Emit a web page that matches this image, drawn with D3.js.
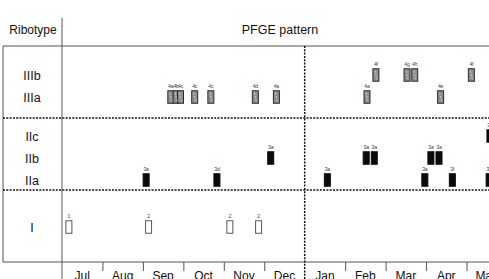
<!DOCTYPE html>
<html><head><meta charset="utf-8">
<script src="https://cdn.jsdelivr.net/npm/d3@7/dist/d3.min.js"></script>
<style>html,body{margin:0;padding:0;background:#fff;overflow:hidden}</style>
</head><body><svg id="c" width="489" height="279"></svg>
<script>
// ---- data ----
const months = ["Jul","Aug","Sep","Oct","Nov","Dec","Jan","Feb","Mar","Apr","May"];
const groupNames = ["III","II","I"];
const groupRows = [["IIIb","IIIa"],["IIc","IIb","IIa"],["I"]];
// isolates: ribotype row, time in months since 1 Jul, PFGE pattern
const isoRow = ["IIIa","IIIa","IIIa","IIIa","IIIa","IIIa","IIIa","IIIa","IIIa",
                "IIIb","IIIb","IIIb","IIIb",
                "IIc",
                "IIb","IIb","IIb","IIb","IIb",
                "IIa","IIa","IIa","IIa","IIa","IIa",
                "I","I","I","I"];
const isoTime = [2.69,2.82,2.93,3.28,3.68,4.78,5.30,7.54,9.36,
                 7.76,8.53,8.72,10.12,
                 10.58,
                 5.16,7.52,7.72,9.12,9.32,
                 2.08,3.83,6.56,8.97,9.65,10.56,
                 0.17,2.14,4.15,4.86];
const isoPattern = ["4a","4b","4c","4c","4c","4d","4a","4a","4e",
                    "4f","4g","4h","4f",
                    "3a",
                    "3a","3a","3a","3a","3a",
                    "3a","3d","3a","3a","3f","3a",
                    "1","2","2","2"];

// ---- layout ----
const svg = d3.select("#c");
const font = "Liberation Sans, Arial, sans-serif";
const L = 3, SPLIT = 62, R = 489, TOP = 46, BOT = 262;
const monthW = 40.45;
const x = d3.scaleLinear().domain([0, months.length]).range([SPLIT, SPLIT + months.length*monthW]);
const gBand = d3.scaleBand().domain(groupNames).range([TOP, BOT]);
const rowY = {};
groupRows.forEach((rows, i) => {
  const c = gBand(groupNames[i]) + gBand.bandwidth()/2 + (rows.length > 1 ? 4 : 1);
  const half = (rows.length - 1) * 11;
  const s = d3.scalePoint().domain(rows).range([c - half, c + half]);
  rows.forEach(r => rowY[r] = rows.length > 1 ? s(r) : c);
});

// header
svg.append("text").attr("x", 33).attr("y", 34).attr("text-anchor","middle")
  .attr("font-family", font).attr("font-size", 12).attr("fill","#111").text("Ribotype");
svg.append("text").attr("x", 280).attr("y", 34).attr("text-anchor","middle")
  .attr("font-family", font).attr("font-size", 12.5).attr("fill","#111").text("PFGE pattern");

const line = (x1,y1,x2,y2) => svg.append("line").attr("x1",x1).attr("y1",y1).attr("x2",x2).attr("y2",y2);
line(L, TOP, R, TOP).attr("stroke","#555").attr("stroke-width",1);
line(SPLIT, 18, SPLIT, 279).attr("stroke","#555").attr("stroke-width",1);
line(L, TOP, L, BOT).attr("stroke","#555").attr("stroke-width",1);
line(L, BOT, R, BOT).attr("stroke","#555").attr("stroke-width",1);

// group dotted separators
groupNames.slice(1).forEach(g => {
  line(L, gBand(g), R, gBand(g)).attr("stroke","#111").attr("stroke-width",1.5).attr("stroke-dasharray","2,1.3");
});
// year boundary (Dec / Jan)
line(x(6), TOP, x(6), 279).attr("stroke","#111").attr("stroke-width",1.5).attr("stroke-dasharray","2,1.3");

// axis
const axis = d3.axisBottom(x).tickValues(d3.range(1, months.length)).tickSize(9).tickFormat("");
const ax = svg.append("g").attr("transform", `translate(0,${BOT})`).call(axis);
ax.select(".domain").remove();
ax.selectAll(".tick line").attr("stroke","#555");
ax.selectAll(".tick").filter(d => d === 6).remove();
svg.selectAll("text.month").data(months).join("text").attr("class","month")
  .attr("x", (d,i) => x(i + 0.5)).attr("y", 279.5).attr("text-anchor","middle")
  .attr("font-family", font).attr("font-size", 12).attr("fill","#111").text(d => d);

// row labels
Object.keys(rowY).forEach(r => {
  svg.append("text").attr("x", 32).attr("y", rowY[r] + 4.5).attr("text-anchor","middle")
    .attr("font-family", font).attr("font-size", 12.5).attr("fill","#111").text(r);
});

// isolates
const data = isoRow.map((r,i) => ({row:r, t:isoTime[i], p:isoPattern[i]}));
const w = 6, h = 12.5;
const style = r => r.startsWith("III") ? {fill:"#8e8e8e", stroke:"#2a2a2a"}
                : r.startsWith("II") ? {fill:"#0a0a0a", stroke:"#0a0a0a"}
                : {fill:"#ffffff", stroke:"#555"};
svg.selectAll("rect.iso").data(data).join("rect").attr("class","iso")
  .attr("x", d => x(d.t) - w/2).attr("y", d => rowY[d.row] - h/2)
  .attr("width", w).attr("height", h)
  .attr("fill", d => style(d.row).fill).attr("stroke", d => style(d.row).stroke).attr("stroke-width", 1);
// gel-band texture inside type III
svg.selectAll("line.band").data(data.filter(d => d.row.startsWith("III"))).join("line").attr("class","band")
  .attr("x1", d => x(d.t) - 1).attr("x2", d => x(d.t) + 1)
  .attr("y1", d => rowY[d.row] - h/2 + 2).attr("y2", d => rowY[d.row] + h/2 - 2)
  .attr("stroke","#cfcfcf").attr("stroke-width",1).attr("stroke-dasharray","2,1.5");
svg.selectAll("text.lab").data(data).join("text").attr("class","lab")
  .attr("x", d => x(d.t)).attr("y", d => rowY[d.row] - h/2 - 2.5).attr("text-anchor","middle")
  .attr("font-family", font).attr("font-size", 5.2).attr("letter-spacing", -0.2).attr("fill","#444").text(d => d.p);
</script></body></html>
